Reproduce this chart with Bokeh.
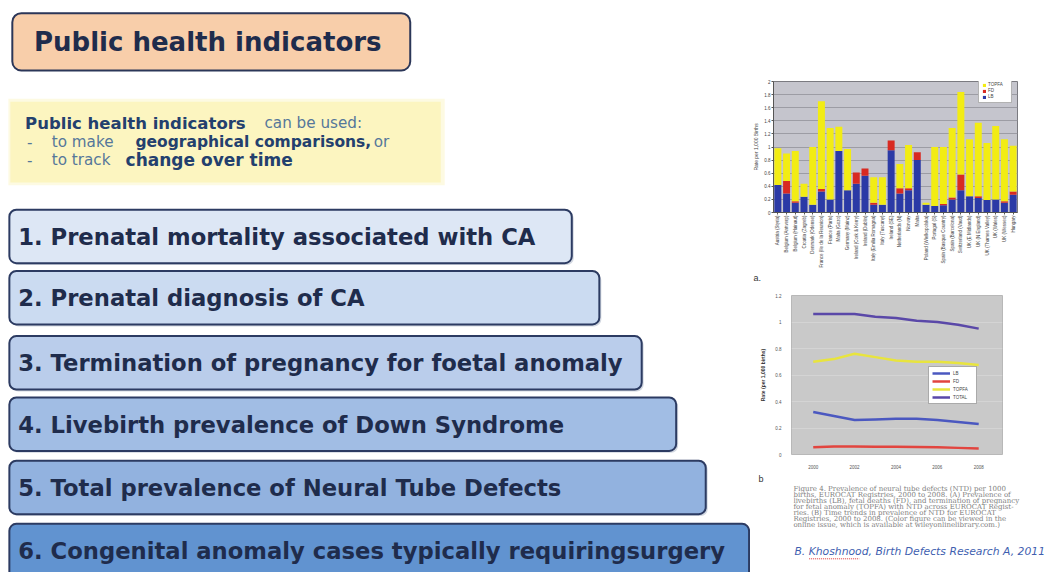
import math
from bokeh.plotting import figure
from bokeh.models import Range1d, ColumnDataSource, Legend, LegendItem, Title, FixedTicker
from bokeh.layouts import row, column
from bokeh.core.properties import value
from bokeh.embed import file_html
from bokeh.resources import INLINE

# ---------------- data ----------------
slide_title = "Public health indicators"
intro_bold = "Public health indicators"
intro_rest = "can be used:"
indicators = [
    "1. Prenatal mortality associated with CA",
    "2. Prenatal diagnosis of CA",
    "3. Termination of pregnancy for foetal anomaly",
    "4. Livebirth prevalence of Down Syndrome",
    "5. Total prevalence of Neural Tube Defects",
    "6. Congenital anomaly cases typically requiringsurgery",
]

registries = [
    "Austria (Styria)", "Belgium (Antwerp)", "Belgium (Hainaut)", "Croatia (Zagreb)",
    "Denmark (Odense)", "France (Ile de la Reunion)", "France (Paris)", "Malta (Gozo)",
    "Germany (Mainz)", "Ireland (Cork & Kerry)", "Ireland (Dublin)", "Italy (Emilia Romagna)",
    "Italy (Tuscany)", "Ireland (SE)", "Netherlands (N)", "Norway", "Malta",
    "Poland (Wielkopolska)", "Portugal (S)", "Spain (Basque Country)", "Spain (Barcelona)",
    "Switzerland (Vaud)", "UK (E Midlands)", "UK (N England)", "UK (Thames Valley)",
    "UK (Wales)", "UK (Wessex)", "Hungary",
]
lb = [0.42, 0.29, 0.15, 0.24, 0.12, 0.32, 0.20, 0.94, 0.34, 0.44, 0.56, 0.12, 0.12, 0.95,
      0.29, 0.34, 0.80, 0.12, 0.10, 0.11, 0.20, 0.34, 0.25, 0.22, 0.19, 0.20, 0.15, 0.27]
fd = [0.00, 0.19, 0.02, 0.00, 0.00, 0.04, 0.00, 0.00, 0.00, 0.17, 0.11, 0.03, 0.00, 0.15,
      0.08, 0.03, 0.12, 0.00, 0.00, 0.02, 0.03, 0.24, 0.00, 0.03, 0.00, 0.00, 0.02, 0.05]
topfa = [0.56, 0.42, 0.77, 0.20, 0.88, 1.34, 1.09, 0.37, 0.63, 0.00, 0.00, 0.39, 0.42, 0.00,
         0.37, 0.66, 0.00, 0.03, 0.90, 0.87, 1.06, 1.26, 0.87, 1.12, 0.87, 1.12, 0.95, 0.70]
bar_yticks = [0, 0.2, 0.4, 0.6, 0.8, 1, 1.2, 1.4, 1.6, 1.8, 2]

years = [2000, 2001, 2002, 2003, 2004, 2005, 2006, 2007, 2008]
trend_total = [1.06, 1.06, 1.06, 1.04, 1.03, 1.01, 1.00, 0.98, 0.95]
trend_topfa = [0.70, 0.72, 0.76, 0.735, 0.71, 0.70, 0.70, 0.69, 0.675]
trend_lb = [0.32, 0.29, 0.26, 0.265, 0.27, 0.27, 0.26, 0.245, 0.23]
trend_fd = [0.055, 0.06, 0.06, 0.058, 0.058, 0.057, 0.055, 0.05, 0.045]
line_xticks = [2000, 2002, 2004, 2006, 2008]
line_yticks = [0, 0.2, 0.4, 0.6, 0.8, 1, 1.2]

caption_lines = [
    "Figure 4. Prevalence of neural tube defects (NTD) per 1000",
    "births, EUROCAT Registries, 2000 to 2008. (A) Prevalence of",
    "livebirths (LB), fetal deaths (FD), and termination of pregnancy",
    "for fetal anomaly (TOPFA) with NTD across EUROCAT Regist-",
    "ries. (B) Time trends in prevalence of NTD for EUROCAT",
    "Registries, 2000 to 2008. (Color figure can be viewed in the",
    "online issue, which is available at wileyonlinelibrary.com.)",
]
citation = "B. Khoshnood, Birth Defects Research A, 2011"

# ---------------- styles / page geometry ----------------
NAVY = "#1f2c4c"
SANS = value("DejaVu Sans")
BLUE, RED, YELLOW = "#2b3aa6", "#d82a22", "#f2ec14"
PAGE_W, PAGE_H = 1048, 572          # drawable area
REF_W, REF_H = 1064, 588            # slide design units
SX, SY = PAGE_W / REF_W, PAGE_H / REF_H
LEFT_W = 750
SPLIT = LEFT_W / SX                  # slide x where the right column starts


def blank(fig):
    fig.grid.visible = False
    fig.outline_line_color = None
    fig.background_fill_color = "white"
    fig.border_fill_color = "white"


# ---------------- left: slide content ----------------
left = figure(width=LEFT_W, height=PAGE_H, x_range=Range1d(0, SPLIT), y_range=Range1d(REF_H, 0),
              output_backend="svg", toolbar_location=None, min_border=0,
              x_axis_location=None, y_axis_location=None, frame_align=False)
blank(left)

# title box
left.quad(left=[12], right=[416], top=[13], bottom=[72], fill_color="#f8ceaa",
          line_color="#2b3658", line_width=2, border_radius=9)
left.text(x=[34], y=[43], text=[slide_title], text_font=SANS, text_font_style="bold",
          text_font_size="26px", text_color=NAVY, text_baseline="middle", text_align="left")

# yellow band
left.quad(left=[8], right=[451], top=[101], bottom=[190], fill_color="#fcf6c6",
          line_color=None, fill_alpha=0.5)
left.quad(left=[10], right=[447], top=[104], bottom=[187], fill_color="#fcf5c0",
          line_color=None)
BOLD_C, NORM_C = "#23406e", "#55779a"
seg_txt = [intro_bold, intro_rest, "-", "to make", "geographical comparisons,", "or",
           "-", "to track", "change over time"]
seg_x = [25, 268, 27, 52, 137, 379, 27, 52, 127]
seg_y = [126, 126, 145, 145, 145, 145, 164, 164, 164]
seg_size = ["16.5px", "15.2px", "15.2px", "15.2px", "15.5px", "15.2px", "15.2px", "15.2px", "17px"]
seg_bold = [True, False, False, False, True, False, False, False, True]
for t, x, y, s, b in zip(seg_txt, seg_x, seg_y, seg_size, seg_bold):
    left.text(x=[x], y=[y], text=[t], text_font=SANS,
              text_font_style="bold" if b else "normal", text_font_size=s,
              text_color=BOLD_C if b else NORM_C, text_baseline="middle", text_align="left")

# indicator boxes
box_right = [580, 608, 651, 686, 716, 760]
box_top = [215, 278, 345, 408, 473, 538]
box_bottom = [270, 333, 400, 463, 528, 600]
box_text_y = [243, 306, 373, 436, 501, 566]
box_fill = ["#dde7f5", "#cbdbf1", "#bacdeb", "#a1bde4", "#92b2df", "#6193d0"]
for i, lab in enumerate(indicators):
    left.quad(left=[11], right=[box_right[i] + 2], top=[box_top[i] + 2],
              bottom=[box_bottom[i] + 2], fill_color="#8090a8", fill_alpha=0.35,
              line_color=None, border_radius=7)
    left.quad(left=[9], right=[box_right[i]], top=[box_top[i]], bottom=[box_bottom[i]],
              fill_color=box_fill[i], line_color="#2c3b62", line_width=2, border_radius=7)
    left.text(x=[18], y=[box_text_y[i]], text=[lab],
              text_font=SANS, text_font_style="bold", text_font_size="22.7px",
              text_color=NAVY, text_baseline="middle", text_align="left")

# ---------------- right top: stacked bar chart ----------------
src = ColumnDataSource(dict(reg=registries, lb=lb, fd=fd, topfa=topfa))
bar = figure(width=298, height=282, x_range=registries, y_range=Range1d(0, 2),
             output_backend="svg", toolbar_location=None, frame_align=False,
             min_border_top=81, min_border_bottom=68, min_border_left=23, min_border_right=31)
bar.background_fill_color = "#c5c5cd"
bar.border_fill_color = "white"
bar.outline_line_color = "#7a7a80"
rs = bar.vbar_stack(["lb", "fd", "topfa"], x="reg", width=0.8, source=src,
                    fill_color=[BLUE, RED, YELLOW], line_color=None)
bar.xgrid.visible = False
bar.ygrid.grid_line_color = "#9c9ca4"
bar.yaxis.ticker = FixedTicker(ticks=bar_yticks)
bar.yaxis.major_label_overrides = {0: "0", 1: "1", 2: "2"}
bar.yaxis.axis_label = "Rate per 1,000 Births"
for ax in (bar.xaxis[0], bar.yaxis[0]):
    ax.major_label_text_font_size = "4.5px"
    ax.major_label_text_color = "#444444"
    ax.major_tick_out = 2
    ax.major_tick_in = 0
    ax.minor_tick_out = 0
    ax.minor_tick_in = 0
    ax.major_label_standoff = 1
    ax.axis_line_color = "#555555"
    ax.major_tick_line_color = "#555555"
bar.yaxis.axis_label_text_font_size = "5px"
bar.yaxis.axis_label_text_font_style = "normal"
bar.yaxis.axis_label_standoff = 2
bar.xaxis.major_label_orientation = math.pi / 2
bar_leg = Legend(items=[LegendItem(label="TOPFA", renderers=[rs[2]]),
                        LegendItem(label="FD", renderers=[rs[1]]),
                        LegendItem(label="LB", renderers=[rs[0]])],
                 location=(205, 109), label_text_font_size="4.5px", label_height=5,
                 glyph_height=4, glyph_width=4, spacing=1, padding=3, margin=0,
                 label_standoff=2, border_line_color="#666666", background_fill_alpha=1)
bar.add_layout(bar_leg)
bar.add_layout(Title(text="a.", align="left", offset=-20, text_font_size="9px",
                     text_font_style="normal", text_color="#333333", standoff=0), "below")

# ---------------- right middle: trend lines ----------------
line = figure(width=298, height=201, x_range=Range1d(1998.95, 2009.15), y_range=Range1d(0, 1.2),
              output_backend="svg", toolbar_location=None, frame_align=False,
              min_border_top=13, min_border_bottom=23, min_border_left=41, min_border_right=46)
line.background_fill_color = "#c9c9c9"
line.border_fill_color = "white"
line.outline_line_color = "#b8b8b8"
line.xgrid.visible = False
line.ygrid.grid_line_color = "#d8d8d8"
line.ygrid.grid_line_alpha = 0.7
r_lb = line.line(years, trend_lb, line_color="#4b58c0", line_width=2.5)
r_fd = line.line(years, trend_fd, line_color="#e2453f", line_width=2.5)
r_top = line.line(years, trend_topfa, line_color="#e8e43e", line_width=2.5)
r_tot = line.line(years, trend_total, line_color="#5a48a8", line_width=2.5)
line.xaxis.ticker = FixedTicker(ticks=line_xticks)
line.yaxis.ticker = FixedTicker(ticks=line_yticks)
line.yaxis.major_label_overrides = {0: "0", 1: "1"}
line.yaxis.axis_label = "Rate (per 1,000 births)"
for ax in (line.xaxis[0], line.yaxis[0]):
    ax.major_label_text_font_size = "4.5px"
    ax.major_label_text_color = "#555555"
    ax.axis_line_color = None
    ax.major_tick_line_color = None
    ax.minor_tick_line_color = None
    ax.major_label_standoff = 4
line.yaxis.axis_label_text_font_size = "5px"
line.yaxis.axis_label_text_font_style = "bold"
line.yaxis.axis_label_text_color = "#333333"
line.yaxis.axis_label_standoff = 6
line_leg = Legend(items=[LegendItem(label="LB", renderers=[r_lb]),
                         LegendItem(label="FD", renderers=[r_fd]),
                         LegendItem(label="TOPFA", renderers=[r_top]),
                         LegendItem(label="TOTAL", renderers=[r_tot])],
                  location=(137, 50), label_text_font_size="4.5px", label_height=6,
                  glyph_height=6, glyph_width=18, spacing=2, padding=3, margin=0,
                  label_standoff=3, border_line_color="#555555", background_fill_alpha=1)
line.add_layout(line_leg)
line.add_layout(Title(text="b", align="left", offset=-33, text_font_size="9px",
                      text_font_style="normal", text_color="#333333", standoff=0), "below")

# ---------------- right bottom: caption ----------------
cap = figure(width=298, height=89, x_range=Range1d(SPLIT, REF_W), y_range=Range1d(REF_H, 497),
             output_backend="svg", toolbar_location=None, min_border=0, frame_align=False,
             x_axis_location=None, y_axis_location=None)
blank(cap)
cap_y = [503 + 6.0 * i for i in range(len(caption_lines))]
cap.text(x=[805] * len(caption_lines), y=cap_y, text=caption_lines,
         text_font=value("DejaVu Serif"), text_font_size="7px", text_color="#808080",
         text_baseline="middle", text_align="left")
cap.text(x=[806], y=[567], text=[citation], text_font=SANS, text_font_style="italic",
         text_font_size="10.8px", text_color="#3f5fb0", text_baseline="middle", text_align="left")
cap.segment(x0=[821], y0=[574], x1=[872], y1=[574], line_color="#e03030",
            line_width=1, line_dash="1 1")

layout = row(left, column(bar, line, cap, spacing=0), spacing=0)
open("out.html", "w").write(file_html(layout, INLINE))
